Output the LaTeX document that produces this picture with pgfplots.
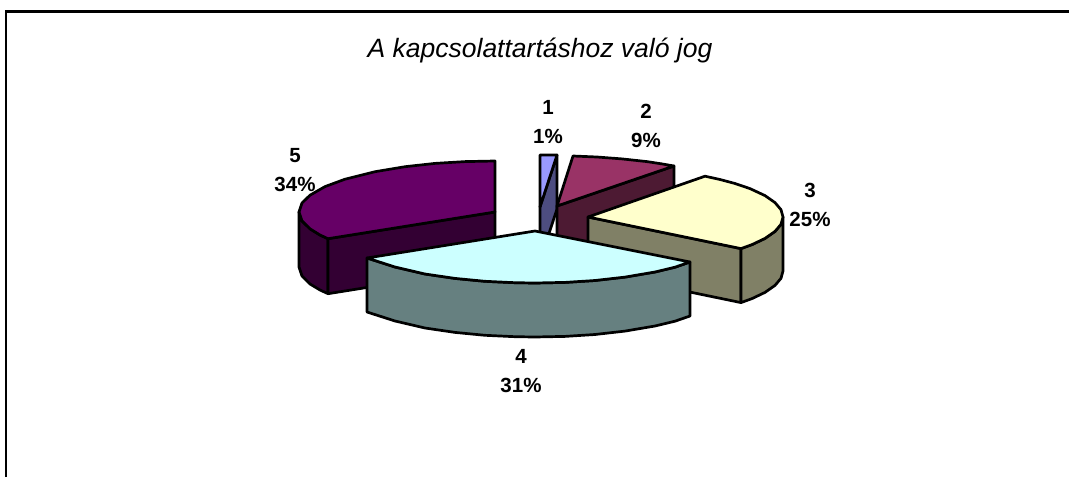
\documentclass[border=0pt]{standalone}
\usepackage{fontspec}
\setmainfont{Liberation Sans}
\usepackage{pgfplots}
\pgfplotsset{compat=1.18}
\definecolor{topa}{HTML}{9999FF}\definecolor{sidea}{HTML}{4D4D80}
\definecolor{topb}{HTML}{993366}\definecolor{sideb}{HTML}{4D1A33}
\definecolor{topc}{HTML}{FFFFCC}\definecolor{sidec}{HTML}{808066}
\definecolor{topd}{HTML}{CCFFFF}\definecolor{sided}{HTML}{668080}
\definecolor{tope}{HTML}{660066}\definecolor{sidee}{HTML}{330033}
\begin{document}
\begin{tikzpicture}
\begin{axis}[
    width=1069pt, height=477pt, scale only axis,
    xmin=0, xmax=1069, ymin=0, ymax=477, y dir=reverse,
    hide axis, clip=true,
    every axis plot/.append style={draw=black, line width=2.7pt, line join=round},
]
% page background and frame
\addplot[draw=none, fill=white] coordinates {(0,0) (1069,0) (1069,477) (0,477)} --cycle;
\addplot[draw=black, line width=2.6pt, line join=miter] coordinates {(6,477) (6,11.5) (1069,11.5)};
% slice 5
\addplot[fill=sidee] coordinates {(299,212) (299,267) (302,276) (310,284) (320,290) (328,293.7) (328,238.7) (320,235) (310,228.8) (302,220.9)} --cycle;
\addplot[fill=sidee] coordinates {(328,238.7) (495,212) (495,267) (328,293.7)} --cycle;
\addplot[fill=tope] coordinates {(495,212) (495,161) (465,161.6) (435,163.4) (405,166.7) (375,171.7) (345,179.2) (325,186.6) (310,195.2) (302,203) (299,212) (302,220.9) (310,228.8) (320,235) (328,238.7)} --cycle;
% slice 1
\addplot[fill=sidea] coordinates {(557,155) (557,209) (540,261) (540,207)} --cycle;
\addplot[fill=topa] coordinates {(540,207) (540,155) (557,155)} --cycle;
% slice 2
\addplot[fill=sideb] coordinates {(557,206) (557,260) (674,220) (674,166)} --cycle;
\addplot[fill=topb] coordinates {(557,206) (573,156) (597,157) (622,158.9) (647,161.6) (662,163.9) (674,166)} --cycle;
% slice 3
\addplot[fill=sidec] coordinates {(588,217) (588,271) (741,302.6) (741,248.6)} --cycle;
\addplot[fill=sidec] coordinates {(741,248.6) (741,302.6) (752,298.6) (765,292.4) (775,285.4) (781,278.3) (783,271) (783,217) (781,224.3) (775,231.4) (765,238.4) (752,244.6)} --cycle;
\addplot[fill=topc] coordinates {(588,217) (705,176.2) (720,179.5) (735,183.5) (750,188.6) (765,195.6) (775,202.6) (781,209.7) (783,217) (781,224.3) (775,231.4) (765,238.4) (752,244.6) (741,248.6)} --cycle;
% slice 4
\addplot[fill=sided] coordinates {(367,258) (395,267) (425,274) (455,278.4) (485,281.3) (515,282.7) (535,283) (565,282.4) (595,280.5) (625,277.1) (655,272) (675,267.2) (690,262) (690,316) (675,321.2) (655,326) (625,331.1) (595,334.5) (565,336.4) (535,337) (515,336.7) (485,335.3) (455,332.4) (425,328) (395,321) (367,312)} --cycle;
\addplot[fill=topd] coordinates {(535,231) (367,258) (395,267) (425,274) (455,278.4) (485,281.3) (515,282.7) (535,283) (565,282.4) (595,280.5) (625,277.1) (655,272) (675,267.2) (690,262)} --cycle;
% texts
\node[font=\fontsize{26.5}{30}\selectfont\itshape] at (axis cs:540,50) {A kapcsolattartáshoz való jog};
\tikzset{lab/.style={font=\fontsize{20.5}{29.5}\selectfont\bfseries, align=center}}
\node[lab] at (axis cs:548,122) {1\\1\%};
\node[lab] at (axis cs:646,126) {2\\9\%};
\node[lab] at (axis cs:810,205) {3\\25\%};
\node[lab] at (axis cs:521,371) {4\\31\%};
\node[lab] at (axis cs:295,170) {5\\34\%};
\end{axis}
\end{tikzpicture}
\end{document}
